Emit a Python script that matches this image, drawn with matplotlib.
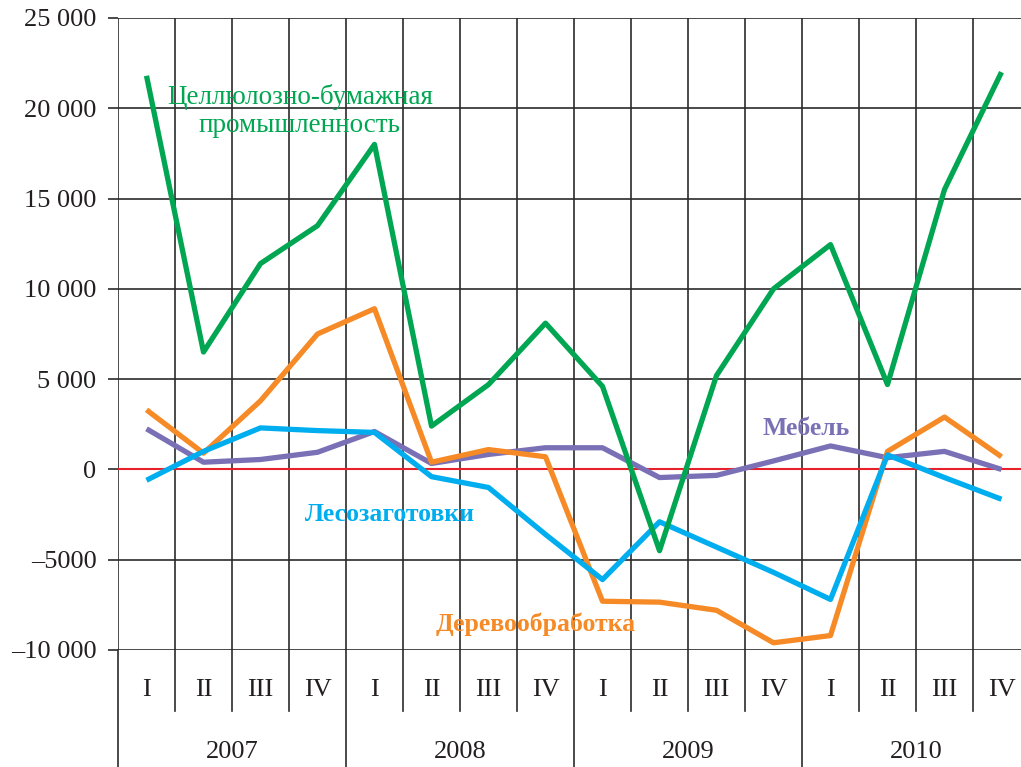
import numpy as np
import matplotlib
matplotlib.use("Agg")
import matplotlib.pyplot as plt
from matplotlib.lines import Line2D
import matplotlib.transforms as mtransforms

plt.rcParams['font.family'] = ['Liberation Serif', 'DejaVu Serif']

# quarters 2007 I .. 2010 IV
quarters = ['I', 'II', 'III', 'IV'] * 4
years = ['2007', '2008', '2009', '2010']

paper = [21800, 6500, 11400, 13500, 18000, 2400, 4700, 8100,
         4600, -4500, 5200, 10000, 12450, 4700, 15500, 22000]
woodwork = [3300, 900, 3800, 7500, 8900, 400, 1100, 700,
            -7300, -7350, -7800, -9600, -9200, 1000, 2900, 700]
logging_ = [-600, 1000, 2300, 2150, 2050, -400, -1000, -3600,
            -6100, -2900, -4300, -5700, -7200, 800, -450, -1650]
furniture = [2250, 400, 550, 950, 2100, 330, 830, 1200,
             1200, -450, -330, 470, 1300, 650, 1000, 0]

yticks = [25000, 20000, 15000, 10000, 5000, 0, -5000, -10000]
ytick_labels = ['25 000', '20 000', '15 000', '10 000', '5 000', '0',
                '\u20135000', '\u201310 000']

c_green = '#00A651'
c_orange = '#F58A26'
c_blue = '#00AEEF'
c_purple = '#7970B6'
c_red = '#E8202A'
c_grid = '#2b2b2b'

W, H = 1021, 767
fig = plt.figure(figsize=(W / 100, H / 100), dpi=100)
ax = fig.add_axes([118 / W, 117 / H, 912 / W, 632 / H])

x = np.arange(len(quarters))
ax.set_xlim(-0.5, len(quarters) - 0.5)
ax.set_ylim(-10000, 25000)

# grid
for k in range(len(quarters) + 1):
    ax.axvline(k - 0.5, color=c_grid, lw=1.2, zorder=1)
for v in yticks:
    ax.axhline(v, color=c_grid, lw=1.2, zorder=1)
ax.axhline(0, color=c_red, lw=1.5, zorder=2)

lw = 3.8
ax.plot(x, paper, color=c_green, lw=lw, zorder=5, solid_capstyle='butt')
ax.plot(x, woodwork, color=c_orange, lw=lw, zorder=4, solid_capstyle='butt')
ax.plot(x, logging_, color=c_blue, lw=lw, zorder=4, solid_capstyle='butt')
ax.plot(x, furniture, color=c_purple, lw=lw, zorder=3, solid_capstyle='butt')

for s in ax.spines.values():
    s.set_visible(False)
ax.set_xticks([])
ax.set_yticks(yticks)
ax.set_yticklabels(ytick_labels, fontsize=19, color='#231f20')
ax.tick_params(axis='y', length=7.5, width=1.2, color=c_grid, pad=8)

# series labels
ax.text(2.69, 19850, 'Целлюлозно-бумажная\nпромышленность', color=c_green,
        fontsize=19.5, ha='center', va='center', linespacing=1.2, zorder=6)
ax.text(11.57, 2250, 'Мебель', color=c_purple, fontsize=18.5,
        fontweight='bold', ha='center', va='center', zorder=6)
ax.text(4.27, -2500, 'Лесозаготовки', color=c_blue, fontsize=18.5,
        fontweight='bold', ha='center', va='center', zorder=6)
ax.text(6.82, -8570, 'Деревообработка', color=c_orange, fontsize=18.5,
        fontweight='bold', ha='center', va='center', zorder=6)

# category axis below the plot
trans = mtransforms.blended_transform_factory(ax.transData, ax.transAxes)
q_bottom = -61 / 632
y_bottom = -117 / 632
for k in range(len(quarters) + 1):
    edge = k - 0.5
    low = y_bottom if k % 4 == 0 else q_bottom
    ax.add_line(Line2D([edge, edge], [0, low], transform=trans,
                       color=c_grid, lw=1.2, clip_on=False))
for i, q in enumerate(quarters):
    ax.text(i, -40 / 632, q, transform=trans, ha='center', va='center',
            fontsize=19, color='#231f20')
for j, yr in enumerate(years):
    ax.text(j * 4 + 1.5, -102 / 632, yr, transform=trans, ha='center',
            va='center', fontsize=19, color='#231f20')

fig.savefig('out.png', dpi=100, facecolor='white')
